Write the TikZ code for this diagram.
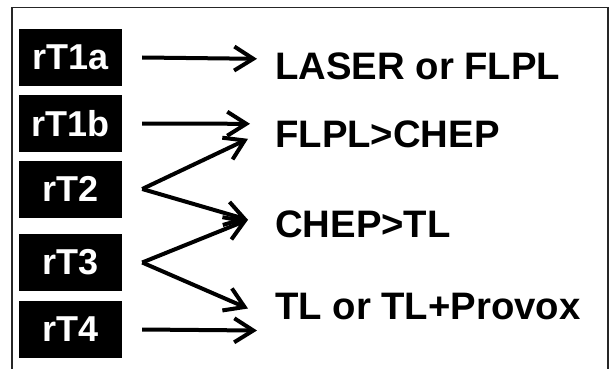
\documentclass[tikz,border=0pt]{standalone}
\usepackage{fontspec}
\setmainfont{Liberation Sans}
\usepackage{tikz}
\usetikzlibrary{arrows.meta}
\tikzstyle{rbox} = [rectangle, fill=black, text=white, inner sep=0pt, minimum width=103pt, minimum height=57pt, font=\fontsize{36}{38}\selectfont\bfseries]
\tikzstyle{tnode} = [inner sep=0pt, anchor=base west, font=\fontsize{38.3}{40}\selectfont\bfseries]
\tikzstyle{arr} = [draw, line width=4pt, -{Straight Barb[length=19pt, width=24pt]}]
\tikzstyle{frame} = [draw, line width=1.5pt, black!85]

\begin{document}
\begin{tikzpicture}[x=1pt, y=-1pt]
			\useasboundingbox (0, 0) rectangle (613, 369);
			\path [frame] (12, 369) -- (12, 7.5) -- (608, 7.5) -- (608, 369);

			\node [rbox] (rT1a) at (70.5, 57.5) {rT1a};
			\node [rbox] (rT1b) at (70.5, 123.5) {rT1b};
			\node [rbox] (rT2) at (70.5, 189) {rT2};
			\node [rbox] (rT3) at (70.5, 262.5) {rT3};
			\node [rbox] (rT4) at (70.5, 329.5) {rT4};
			\node [tnode] (laser) at (275, 80) {LASER or FLPL};
			\node [tnode] (flpl) at (275, 147) {FLPL>CHEP};
			\node [tnode] (chep) at (275, 237) {CHEP>TL};
			\node [tnode] (tl) at (275, 319.5) {TL or TL+Provox};

			\path [arr] ([xshift=20pt]rT1a.east) -- ([xshift=-18pt, yshift=8pt]laser.west);
			\path [arr] ([xshift=20pt]rT1b.east) -- ([xshift=-25pt, yshift=10pt]flpl.west);
			\path [arr] ([xshift=20pt]rT2.east) -- ([xshift=-27pt, yshift=-5pt]flpl.west);
			\path [arr] ([xshift=20pt]rT2.east) -- ([xshift=-27pt, yshift=4pt]chep.west);
			\path [arr] ([xshift=20pt]rT3.east) -- ([xshift=-27pt, yshift=4pt]chep.west);
			\path [arr] ([xshift=20pt]rT3.east) -- ([xshift=-27pt, yshift=-2pt]tl.west);
			\path [arr] ([xshift=20pt]rT4.east) -- ([xshift=-18pt, yshift=-24pt]tl.west);
		\end{tikzpicture}
\end{document}
